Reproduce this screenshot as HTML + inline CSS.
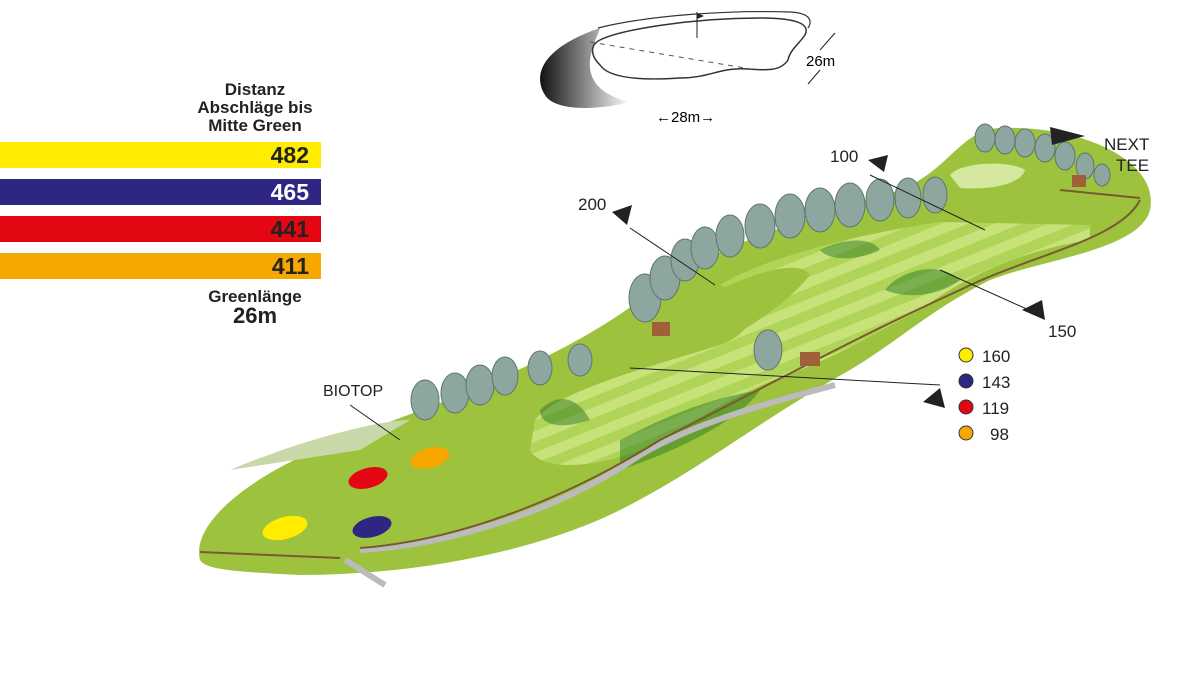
<!DOCTYPE html>
<html><head><meta charset="utf-8"><style>
body{margin:0;width:1200px;height:682px;background:#fff;overflow:hidden;font-family:"Liberation Sans",sans-serif}
.b{position:absolute;left:0;width:321px;height:26px;font-weight:bold;font-size:23px;text-align:right;box-sizing:border-box;padding-right:12px;line-height:27px;color:#222}
.h{position:absolute;font-weight:bold;color:#222;text-align:center}
</style></head><body>
<div class="h" style="left:175px;top:81px;width:160px;font-size:17px;line-height:18px">Distanz<br>Abschläge bis<br>Mitte Green</div>
<div class="b" style="top:142px;background:#ffec00">482</div>
<div class="b" style="top:179px;background:#2e2683;color:#fff">465</div>
<div class="b" style="top:216px;background:#e30613">441</div>
<div class="b" style="top:253px;background:#f7a800">411</div>
<div class="h" style="left:185px;top:287px;width:140px;font-size:17px;line-height:19px">Greenlänge<br><span style="font-size:22px">26m</span></div>
<svg width="1200" height="682" style="position:absolute;left:0;top:0" font-family="Liberation Sans, sans-serif">
<defs>
<linearGradient id="sh" x1="0" x2="1"><stop offset="0" stop-color="#111"/><stop offset="1" stop-color="#fff"/></linearGradient>
<pattern id="st" width="20" height="20" patternUnits="userSpaceOnUse" patternTransform="rotate(-22)"><rect width="20" height="20" fill="#b0d458"/><rect width="20" height="10" fill="#c8e27a"/></pattern>
</defs>
<!-- green sketch -->
<path d="M600 28 C550 45 530 70 545 95 C555 112 600 110 630 102 C600 95 588 80 590 60 C592 45 598 35 600 28Z" fill="url(#sh)"/>
<path d="M598 28 C650 15 730 10 790 12 C812 13 812 22 808 28" fill="none" stroke="#333" stroke-width="1.2"/>
<path d="M600 40 C620 30 690 18 760 18 C800 18 810 25 805 35 C798 45 790 50 788 60 C780 72 765 70 748 69 C720 67 710 78 680 78 C650 80 610 80 600 65 C590 55 590 45 600 40Z" fill="#fff" stroke="#333" stroke-width="1.5"/>
<path d="M590 42 L757 70" stroke="#555" stroke-dasharray="5 5"/>
<line x1="697" y1="12" x2="697" y2="38" stroke="#222"/><path d="M697 13 L704 16 L697 19Z" fill="#222"/>
<text x="806" y="66" font-size="15">26m</text>
<path d="M820 50 L835 33 M808 84 L820 70" stroke="#222"/>
<text x="656" y="122" font-size="15">←28m→</text>
<!-- course -->
<path d="M200 560 C190 520 260 470 340 440 C450 400 560 360 640 300 C700 250 800 220 900 190 C950 170 960 130 1000 128 C1080 125 1160 160 1150 210 C1140 250 1040 260 990 280 C930 310 900 340 850 370 C760 420 700 470 620 510 C540 550 420 575 300 575 C240 572 205 570 200 560Z" fill="#9cc23e"/>
<path d="M230 470 C300 440 380 420 410 420 L360 450 Z" fill="#c8d8a8"/>
<path d="M535 420 C560 390 640 370 720 345 C760 330 760 300 720 285 C760 260 850 235 940 222 L1090 225 L1090 240 C1020 250 960 280 920 310 C880 330 850 350 800 370 C740 390 700 420 640 450 C590 470 540 470 530 450Z" fill="url(#st)"/>
<path d="M720 290 C760 270 800 260 810 275 C790 300 760 320 735 335 C720 320 710 300 720 290Z" fill="#9cc23e"/>
<path d="M950 175 C960 162 1010 160 1025 170 C1020 185 990 190 960 188Z" fill="#d4e8a0"/>
<path d="M540 410 C560 390 580 400 590 420 C560 430 540 425 540 410Z M620 440 C660 420 700 400 760 390 C740 420 680 450 620 470Z" fill="#2e7a22" opacity=".5"/>
<path d="M885 290 C900 270 940 260 960 280 C940 295 910 300 885 290Z M820 250 C840 240 870 235 880 250 C860 260 830 262 820 250Z" fill="#2e7a22" opacity=".5"/>
<path d="M345 560 L385 585 M360 550 C450 545 560 510 640 455 C700 420 780 400 835 385" stroke="#bbb" stroke-width="6" fill="none"/>
<path d="M200 552 L340 558 M360 548 C470 540 580 490 660 440 C760 390 850 340 960 290 C1030 255 1120 240 1140 200" stroke="#7a5a30" stroke-width="2" fill="none"/>
<path d="M1060 190 L1140 198" stroke="#7a5a30" stroke-width="2"/>
<!-- trees -->
<g fill="#8ea6a0" stroke="#5d7670">
<ellipse cx="425" cy="400" rx="14" ry="20"/><ellipse cx="455" cy="393" rx="14" ry="20"/><ellipse cx="480" cy="385" rx="14" ry="20"/><ellipse cx="505" cy="376" rx="13" ry="19"/><ellipse cx="540" cy="368" rx="12" ry="17"/><ellipse cx="580" cy="360" rx="12" ry="16"/>
<ellipse cx="645" cy="298" rx="16" ry="24"/><ellipse cx="665" cy="278" rx="15" ry="22"/><ellipse cx="685" cy="260" rx="14" ry="21"/><ellipse cx="705" cy="248" rx="14" ry="21"/><ellipse cx="730" cy="236" rx="14" ry="21"/><ellipse cx="760" cy="226" rx="15" ry="22"/><ellipse cx="790" cy="216" rx="15" ry="22"/><ellipse cx="820" cy="210" rx="15" ry="22"/><ellipse cx="850" cy="205" rx="15" ry="22"/><ellipse cx="880" cy="200" rx="14" ry="21"/><ellipse cx="908" cy="198" rx="13" ry="20"/><ellipse cx="935" cy="195" rx="12" ry="18"/>
<ellipse cx="768" cy="350" rx="14" ry="20"/>
<ellipse cx="985" cy="138" rx="10" ry="14"/><ellipse cx="1005" cy="140" rx="10" ry="14"/><ellipse cx="1025" cy="143" rx="10" ry="14"/><ellipse cx="1045" cy="148" rx="10" ry="14"/><ellipse cx="1065" cy="156" rx="10" ry="14"/><ellipse cx="1085" cy="166" rx="9" ry="13"/><ellipse cx="1102" cy="175" rx="8" ry="11"/>
</g>
<rect x="652" y="322" width="18" height="14" fill="#a0603a"/><rect x="800" y="352" width="20" height="14" fill="#a0603a"/><rect x="1072" y="175" width="14" height="12" fill="#a0603a"/>
<!-- tees -->
<ellipse cx="285" cy="528" rx="23" ry="11" fill="#ffec00" transform="rotate(-15 285 528)"/>
<ellipse cx="372" cy="527" rx="20" ry="10" fill="#2e2683" transform="rotate(-15 372 527)"/>
<ellipse cx="368" cy="478" rx="20" ry="10" fill="#e30613" transform="rotate(-15 368 478)"/>
<ellipse cx="430" cy="458" rx="20" ry="10" fill="#f7a800" transform="rotate(-15 430 458)"/>
<!-- markers -->
<g stroke="#222" stroke-width="1"><line x1="630" y1="228" x2="715" y2="285"/><line x1="870" y1="175" x2="985" y2="230"/><line x1="940" y1="270" x2="1040" y2="315"/><line x1="630" y1="368" x2="940" y2="385"/></g>
<path d="M612 212 L632 205 L627 225Z M868 160 L888 155 L884 172Z M1022 310 L1042 300 L1045 320Z M923 402 L940 388 L945 408Z M1050 127 L1085 136 L1052 145Z" fill="#222"/>
<g font-size="17" fill="#222"><text x="578" y="210">200</text><text x="830" y="162">100</text><text x="1048" y="337">150</text><text x="323" y="396" font-size="16">BIOTOP</text><text x="1104" y="150">NEXT</text><text x="1116" y="171">TEE</text>
<text x="982" y="362">160</text><text x="982" y="388">143</text><text x="982" y="414">119</text><text x="990" y="440">98</text></g>
<line x1="350" y1="405" x2="400" y2="440" stroke="#222"/>
<g stroke="#333"><circle cx="966" cy="355" r="7" fill="#ffec00"/><circle cx="966" cy="381" r="7" fill="#2e2683"/><circle cx="966" cy="407" r="7" fill="#e30613"/><circle cx="966" cy="433" r="7" fill="#f7a800"/></g>
</svg>
</body></html>
